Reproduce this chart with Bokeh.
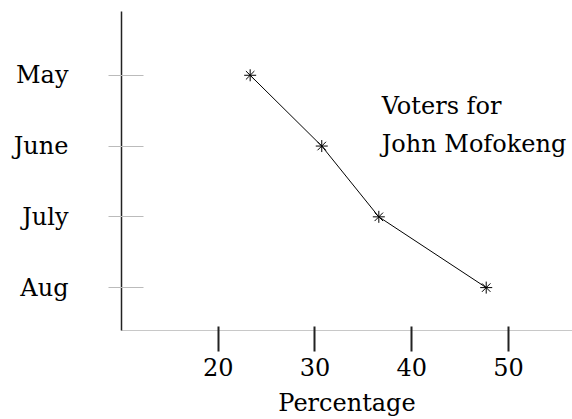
from bokeh.plotting import figure
from bokeh.models import FixedTicker, Label, Range1d
from bokeh.embed import file_html
from bokeh.resources import INLINE

# Data
months = ["May", "June", "July", "Aug"]
month_pos = [4, 3, 2, 1]
percentage = [23.3, 30.7, 36.6, 47.7]
x_ticks = [20, 30, 40, 50]
note_lines = ["Voters for", "John Mofokeng"]

FONT = "DejaVu Serif"
FS = "24px"

p = figure(width=572, height=419, output_backend="svg", toolbar_location=None,
           x_range=Range1d(10, 56.62), y_range=Range1d(0.394, 4.901),
           min_border_left=121, min_border_right=0, min_border_top=11, min_border_bottom=88)
p.outline_line_color = None
p.xgrid.grid_line_color = None
p.ygrid.grid_line_color = None
p.background_fill_color = "white"
p.border_fill_color = "white"

p.line(percentage, month_pos, line_color="black", line_width=1)
p.scatter(percentage, month_pos, marker="asterisk", size=12, line_color="black", line_width=1)

# x axis
xa = p.xaxis[0]
xa.ticker = FixedTicker(ticks=x_ticks)
xa.minor_tick_line_color = None
xa.axis_line_color = "#c8c8c8"
xa.major_tick_line_color = "#222222"
xa.major_tick_line_width = 2
xa.major_tick_in = 4
xa.major_tick_out = 21
xa.major_label_standoff = 6
xa.major_label_text_font = FONT
xa.major_label_text_font_size = FS
xa.major_label_text_color = "black"
xa.axis_label = "Percentage"
xa.axis_label_text_font = FONT
xa.axis_label_text_font_size = FS
xa.axis_label_text_font_style = "normal"
xa.axis_label_text_color = "black"
xa.axis_label_standoff = 10

# y axis
ya = p.yaxis[0]
ya.ticker = FixedTicker(ticks=month_pos)
ya.major_label_overrides = {pos: m for pos, m in zip(month_pos, months)}
ya.minor_tick_line_color = None
ya.axis_line_color = "#222222"
ya.axis_line_width = 1.5
ya.major_tick_line_color = "#bbbbbb"
ya.major_tick_in = 22
ya.major_tick_out = 13
ya.major_label_standoff = 40
ya.major_label_text_font = FONT
ya.major_label_text_font_size = FS
ya.major_label_text_color = "black"

# note
p.add_layout(Label(x=36.9, y=3.563, text=note_lines[0], text_font=FONT,
                   text_font_size=FS, text_color="black", text_baseline="alphabetic"))
p.add_layout(Label(x=36.9, y=3.028, text=note_lines[1], text_font=FONT,
                   text_font_size=FS, text_color="black", text_baseline="alphabetic"))

open("out.html", "w").write(file_html(p, INLINE))
